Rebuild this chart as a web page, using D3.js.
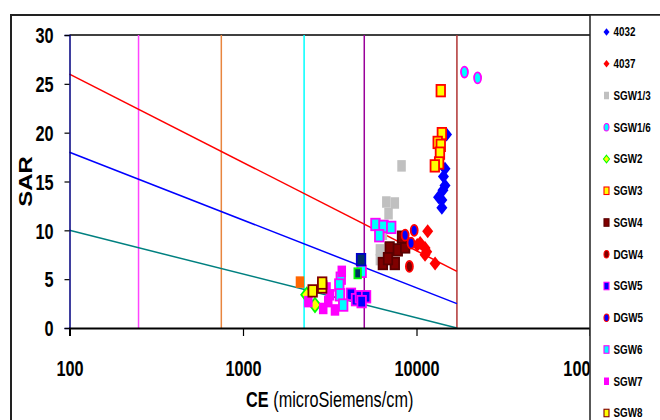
<!DOCTYPE html>
<html>
<head>
<meta charset="utf-8">
<script src="https://cdn.jsdelivr.net/npm/d3@7"></script>
<style>
  html, body { margin: 0; padding: 0; background: #fff; }
  svg { display: block; }
  text { font-family: "Liberation Sans", Arial, Helvetica, sans-serif; }
</style>
</head>
<body>
<svg id="chart" width="660" height="420"></svg>
<script>
// ---- data: CE (microSiemens/cm) vs SAR ----
const ecTicks = [100, 1000, 10000, 100000];
const sarTicks = [0, 5, 10, 15, 20, 25, 30];

// salinity class limits (CE)
const ecLimits = [250, 750, 2250, 5000, 17100];
const ecLimitColors = ["#ff44ff", "#e8853e", "#00ffff", "#990099", "#b03333"];

// sodicity boundary lines, endpoints (CE, SAR)
const boundaryEC = [100, 17100];
const sarS3S4 = [26, 5.8];
const sarS2S3 = [18, 2.5];
const sarS1S2 = [10, 0];

// samples: [CE, SAR]
const s4032 = [[14900,19.8],[14600,16.3],[14300,15.5],[14600,14.6],[14200,14.1],[13400,13.4],[14000,13.1],[14000,12.3]];
const s4037 = [[11600,9.9],[10500,8.7],[10100,8.5],[11200,8.2],[11450,7.8],[11200,7.5],[12800,6.6]];
const sgw13 = [[8200,16.6],[6700,12.9],[7500,12.8],[6900,11.7],[6500,10.5],[6400,9.6],[6150,8.0],[6150,7.0]];
const sgw16 = [[18900,26.2],[22500,25.6]];
const sgw2  = [[2330,3.4],[2600,2.35]];
const sgw3  = [[13800,24.3],[14000,19.9],[13250,19.0],[13800,18.7],[13650,17.9],[13500,16.9],[12750,16.6]];
const sgw4  = [[6400,6.6],[7000,8.2],[7800,8.0],[7500,6.6],[8600,8.3],[8250,9.3],[6850,7.1]];
const dgw4  = [[9100,6.3]];
const sgw5  = [[4190,3.45],[4480,2.9],[4720,3.2],[5120,3.2],[4830,2.7]];
const dgw5  = [[8600,9.5],[9700,10.0],[9300,8.7]];
const sgw6  = [[5800,10.6],[6450,10.4],[7150,10.3],[6100,9.45],[3660,5.1],[3590,4.4],[3620,3.4],[3780,2.35],[4830,5.8]];
const sgw7  = [[2380,2.7],[2900,2.0],[3170,3.4],[3710,5.8],[3390,1.85],[3030,4.1],[3100,2.7]];
const sgw8  = [[2520,3.8],[2860,4.2],[2860,4.6]];
// further samples whose legend rows fall below the visible legend area
const extraOrange = [[2130,4.7]];
const extraNavy   = [[4790,7.0]];
const extraGreen  = [[4580,5.6]];

const seriesNames = ["4032","4037","SGW1/3","SGW1/6","SGW2","SGW3","SGW4","DGW4","SGW5","DGW5","SGW6","SGW7","SGW8"];
const seriesData  = [s4032, s4037, sgw13, sgw16, sgw2, sgw3, sgw4, dgw4, sgw5, dgw5, sgw6, sgw7, sgw8, extraOrange, extraNavy, extraGreen];
const seriesStyle = [
  {shape:"diamond", fill:"#0000ff", stroke:"none"},
  {shape:"diamond", fill:"#ff0000", stroke:"none"},
  {shape:"square",  fill:"#c0c0c0", stroke:"none"},
  {shape:"ellipse", fill:"#00ffff", stroke:"#ff00ff"},
  {shape:"diamond", fill:"#ffff00", stroke:"#00ff00"},
  {shape:"square",  fill:"#ffff00", stroke:"#ff0000"},
  {shape:"square",  fill:"#800000", stroke:"#5a0000"},
  {shape:"ellipse", fill:"#800000", stroke:"#ff0000"},
  {shape:"square",  fill:"#0000ff", stroke:"#ff00ff"},
  {shape:"ellipse", fill:"#0000ff", stroke:"#ff0000"},
  {shape:"square",  fill:"#00ffff", stroke:"#ff00ff"},
  {shape:"square",  fill:"#ff00ff", stroke:"none"},
  {shape:"square",  fill:"#ffff00", stroke:"#800000"},
  {shape:"square",  fill:"#ff6600", stroke:"none"},
  {shape:"square",  fill:"#003366", stroke:"#0000cc"},
  {shape:"square",  fill:"#003366", stroke:"#00ff00", small:true}
];

// ---- layout ----
const svg = d3.select("#chart");
const SX = 0.74;               // horizontal text compression
const plotL = 69.5, plotR = 590, plotT = 35, plotB = 328;

const x = d3.scaleLog().domain([100, 100000]).range([plotL, plotR]);
const y = d3.scaleLinear().domain([0, 30]).range([plotB, plotT]);

// outer chart frame
svg.append("rect").attr("x", 11).attr("y", 15).attr("width", 700).attr("height", 500)
  .attr("fill", "#fff").attr("stroke", "#222").attr("stroke-width", 2);

// top border of the plot
svg.append("line").attr("x1", plotL).attr("x2", plotR).attr("y1", plotT).attr("y2", plotT)
  .attr("stroke", "#000").attr("stroke-width", 1.5);

// salinity class limits
svg.append("g").selectAll("line").data(ecLimits).join("line")
  .attr("x1", d => x(d)).attr("x2", d => x(d))
  .attr("y1", plotT).attr("y2", plotB)
  .attr("stroke", (d, i) => ecLimitColors[i]).attr("stroke-width", 1.5);

// sodicity boundaries
const line = d3.line().x(d => x(d[0])).y(d => y(d[1]));
[[sarS3S4, "#ff0000"], [sarS2S3, "#0000ff"], [sarS1S2, "#008080"]].forEach(([sar, col]) => {
  svg.append("path").datum(boundaryEC.map((e, i) => [e, sar[i]]))
    .attr("d", line).attr("fill", "none").attr("stroke", col).attr("stroke-width", 1.5);
});

// axes
const yAxis = svg.append("g").attr("transform", `translate(${plotL},0)`)
  .call(d3.axisLeft(y).tickValues(sarTicks).tickSize(5).tickFormat(d3.format("d")));
yAxis.select(".domain").attr("stroke", "#000080").attr("stroke-width", 1.5);
yAxis.selectAll(".tick line").attr("stroke", "#000").attr("stroke-width", 1.2);
yAxis.selectAll(".tick text").attr("x", null).attr("dy", "0.35em")
  .attr("transform", `translate(-16,0) scale(${SX},1)`)
  .attr("font-size", 22).attr("font-weight", "bold").attr("fill", "#000")
  .style("font-family", "'Liberation Sans', Arial, sans-serif");

const xAxis = svg.append("g").attr("transform", `translate(0,${plotB})`)
  .call(d3.axisBottom(x).tickValues(ecTicks).tickSize(8).tickFormat(d3.format("d")));
xAxis.select(".domain").attr("stroke", "#000").attr("stroke-width", 2);
xAxis.selectAll(".tick line").attr("stroke", "#000").attr("stroke-width", 1.2);
xAxis.selectAll(".tick text").attr("y", null).attr("dy", null)
  .attr("transform", `translate(0,48) scale(${SX},1)`)
  .attr("font-size", 22).attr("font-weight", "bold").attr("fill", "#000")
  .style("font-family", "'Liberation Sans', Arial, sans-serif");

// axis titles
const xt = svg.append("text").attr("text-anchor", "middle")
  .attr("transform", `translate(${(plotL + plotR) / 2},407) scale(${SX},1)`)
  .attr("font-size", 22).attr("fill", "#000");
xt.append("tspan").attr("font-weight", "bold").text("CE");
xt.append("tspan").text(" (microSiemens/cm)");

svg.append("text").attr("text-anchor", "middle")
  .attr("transform", `translate(32,${(plotT + plotB) / 2}) scale(${SX},1) rotate(-90)`)
  .attr("font-size", 24).attr("font-weight", "bold").attr("fill", "#000").text("SAR");

// marker drawing
function drawMarker(g, st, w, h, sw) {
  if (st.shape === "ellipse") {
    g.append("ellipse").attr("rx", w / 2).attr("ry", h / 2);
  } else if (st.shape === "diamond") {
    g.append("path").attr("d", `M0,${-h/2}L${w/2},0L0,${h/2}L${-w/2},0Z`);
  } else {
    g.append("rect").attr("x", -w / 2).attr("y", -h / 2).attr("width", w).attr("height", h);
  }
  g.selectAll("*").attr("fill", st.fill)
    .attr("stroke", st.stroke).attr("stroke-width", st.stroke === "none" ? 0 : sw);
}

function markerSize(st) {
  if (st.small) return [6.5, 10];
  if (st.shape === "diamond") return [11, 14];
  if (st.shape === "ellipse") return [7, 11];
  return [8.5, 11.5];
}

// points
const pts = svg.append("g");
seriesData.forEach((data, i) => {
  const st = seriesStyle[i];
  const [w, h] = markerSize(st);
  data.forEach(d => {
    const g = pts.append("g").attr("transform", `translate(${x(d[0])},${y(d[1])})`);
    drawMarker(g, st, w, h, 1.8);
  });
});

// legend
svg.append("rect").attr("x", 590).attr("y", 15).attr("width", 100).attr("height", 500)
  .attr("fill", "#fff").attr("stroke", "#222").attr("stroke-width", 1.5);

const legend = svg.append("g");
seriesNames.forEach((name, i) => {
  const ly = 32 + i * 31.75;
  const st = seriesStyle[i];
  const g = legend.append("g").attr("transform", `translate(606.5,${ly})`);
  const lw = st.shape === "diamond" ? 6 : 5;
  drawMarker(g, st, lw, 7.5, 1.1);
  legend.append("text")
    .attr("transform", `translate(613.5,${ly}) scale(0.82,1)`)
    .attr("dy", "0.36em").attr("font-size", 12).attr("font-weight", "bold")
    .attr("fill", "#000").text(name);
});
</script>
</body>
</html>
